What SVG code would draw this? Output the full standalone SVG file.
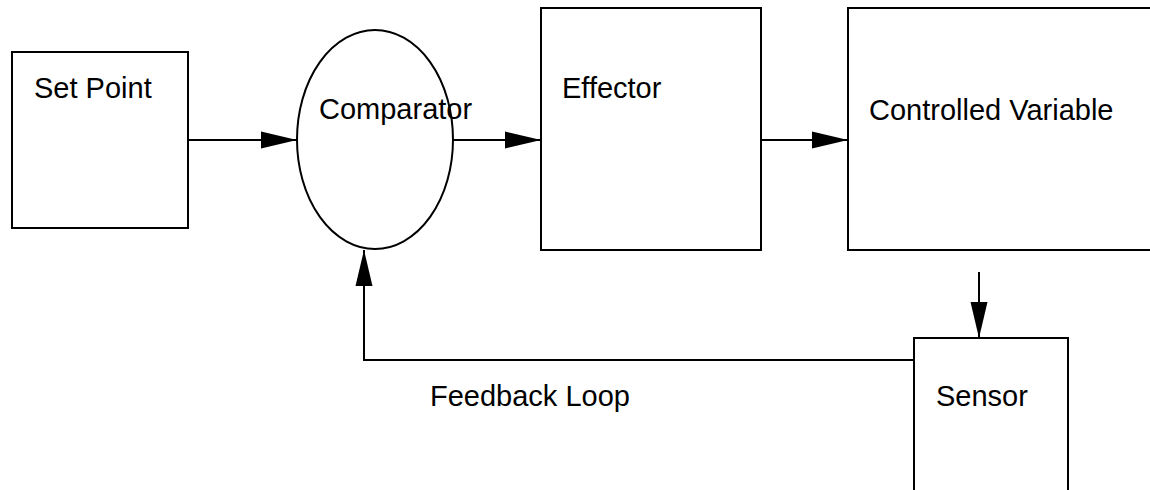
<svg xmlns="http://www.w3.org/2000/svg" width="1150" height="490" viewBox="0 0 1150 490">
  <defs>
    <style>
      .box { fill: #ffffff; stroke: #000000; stroke-width: 2; }
      .edge { fill: none; stroke: #000000; stroke-width: 2; }
      .label { font-family: "Liberation Sans", Arial, Helvetica, sans-serif; font-size: 29px; fill: #000000; }
    </style>
    <marker id="arrow" markerUnits="userSpaceOnUse" markerWidth="36" markerHeight="17" refX="36" refY="8.5" orient="auto" overflow="visible">
      <path d="M0,0 L36,8.5 L0,17 Z" fill="#000000"/>
    </marker>
  </defs>
  <rect width="1150" height="490" fill="#ffffff"/>

  <g id="set-point">
    <rect class="box" x="12" y="52" width="176" height="176"/>
    <text class="label" x="34" y="98">Set Point</text>
  </g>

  <g id="comparator">
    <ellipse class="box" cx="375" cy="139.5" rx="78" ry="109.5"/>
    <text class="label" x="319" y="119">Comparator</text>
  </g>

  <g id="effector">
    <rect class="box" x="541" y="8" width="220" height="242"/>
    <text class="label" x="562" y="98">Effector</text>
  </g>

  <g id="controlled-variable">
    <rect class="box" x="848" y="8" width="320" height="242"/>
    <text class="label" x="869" y="120">Controlled Variable</text>
  </g>

  <g id="sensor">
    <rect class="box" x="914" y="338" width="154" height="170"/>
    <text class="label" x="936" y="406">Sensor</text>
  </g>

  <g id="connectors">
    <line class="edge" x1="188" y1="140" x2="297" y2="140" marker-end="url(#arrow)"/>
    <line class="edge" x1="453" y1="140" x2="541" y2="140" marker-end="url(#arrow)"/>
    <line class="edge" x1="761" y1="140" x2="848" y2="140" marker-end="url(#arrow)"/>
    <line class="edge" x1="979" y1="272" x2="979" y2="338" marker-end="url(#arrow)"/>
    <polyline class="edge" points="914,360 364,360 364,250" marker-end="url(#arrow)"/>
  </g>

  <g id="feedback-label">
    <text class="label" x="430" y="406">Feedback Loop</text>
  </g>
</svg>
